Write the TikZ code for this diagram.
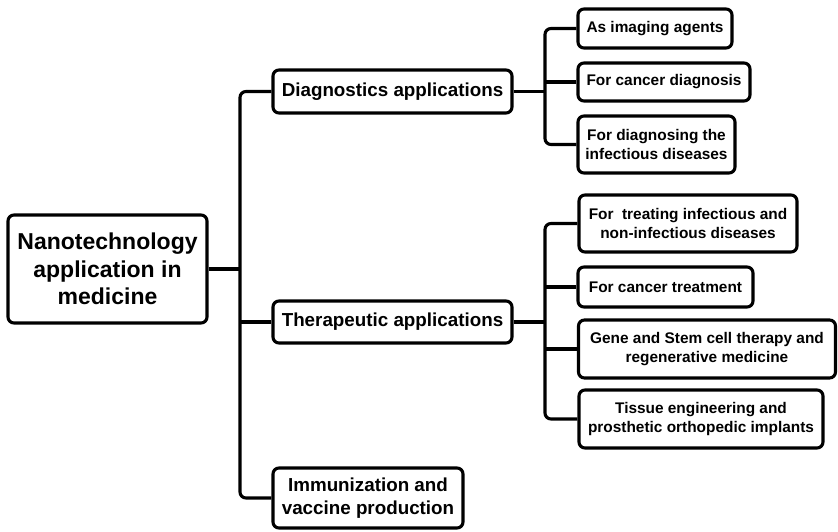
\documentclass[tikz,border=0pt]{standalone}
\usepackage{fontspec}
\setmainfont{Liberation Sans}
\begin{document}
\begin{tikzpicture}[x=1pt,y=-1pt,
  box/.style={draw=black, line width=3.1pt, rounded corners=6pt, fill=white, align=center, inner sep=0pt, font=\bfseries},
  rootbox/.style={box, font=\fontsize{23}{27.5}\selectfont\bfseries},
  midbox/.style={box, font=\fontsize{18.8}{23}\selectfont\bfseries},
  leafbox/.style={box, font=\fontsize{15.4}{19}\selectfont\bfseries},
  link/.style={draw=black, line width=3.1pt, rounded corners=6pt}]
\useasboundingbox (0,0) rectangle (838,531);
% root
\node[rootbox, minimum width=199pt, minimum height=108pt] (root) at (107.5,269) {Nanotechnology\\application in\\medicine};
% level 2
\node[midbox, minimum width=239pt, minimum height=43pt] (diag) at (392.5,91.5) {Diagnostics applications};
\node[midbox, minimum width=239pt, minimum height=42pt] (ther) at (392.5,322) {Therapeutic applications};
\node[midbox, minimum width=190pt, minimum height=60pt] (imm) at (368,498) {Immunization and\\vaccine production};
% diagnostic leaves
\node[leafbox, minimum width=154pt, minimum height=39pt] (d1) at (655,28.5) {As imaging agents};
\node[leafbox, minimum width=172pt, minimum height=38pt] (d2) at (664,82) {For cancer diagnosis};
\node[leafbox, minimum width=157pt, minimum height=57pt] (d3) at (656.5,144.5) {For diagnosing the\\infectious diseases};
% therapeutic leaves
\node[leafbox, minimum width=218pt, minimum height=57pt] (t1) at (688,223.5) {For~~treating infectious and\\non-infectious diseases};
\node[leafbox, minimum width=175pt, minimum height=40pt] (t2) at (665.5,287) {For cancer treatment};
\node[leafbox, minimum width=257pt, minimum height=58pt] (t3) at (707,349) {Gene and Stem cell therapy and\\regenerative medicine};
\node[leafbox, minimum width=244pt, minimum height=58pt] (t4) at (701,419) {Tissue engineering and\\prosthetic orthopedic implants};
% bracket positions
\coordinate (trunk) at (240,0);
\coordinate (dbr) at (545,0);
\coordinate (tbr) at (545,0);
% trunk
\draw[link] (diag.west) -- (diag.west -| trunk) -- (imm.west -| trunk) -- (imm.west);
\draw[link] (root.east) -- (root.east -| trunk);
\draw[link] (ther.west) -- (ther.west -| trunk);
% diagnostics bracket
\draw[link] (d1.west) -- (d1.west -| dbr) -- (d3.west -| dbr) -- (d3.west);
\draw[link] (diag.east) -- (diag.east -| dbr);
\draw[link] (d2.west) -- (d2.west -| dbr);
% therapeutic bracket
\draw[link] (t1.west) -- (t1.west -| tbr) -- (t4.west -| tbr) -- (t4.west);
\draw[link] (ther.east) -- (ther.east -| tbr);
\draw[link] (t2.west) -- (t2.west -| tbr);
\draw[link] (t3.west) -- (t3.west -| tbr);
\end{tikzpicture}
\end{document}
